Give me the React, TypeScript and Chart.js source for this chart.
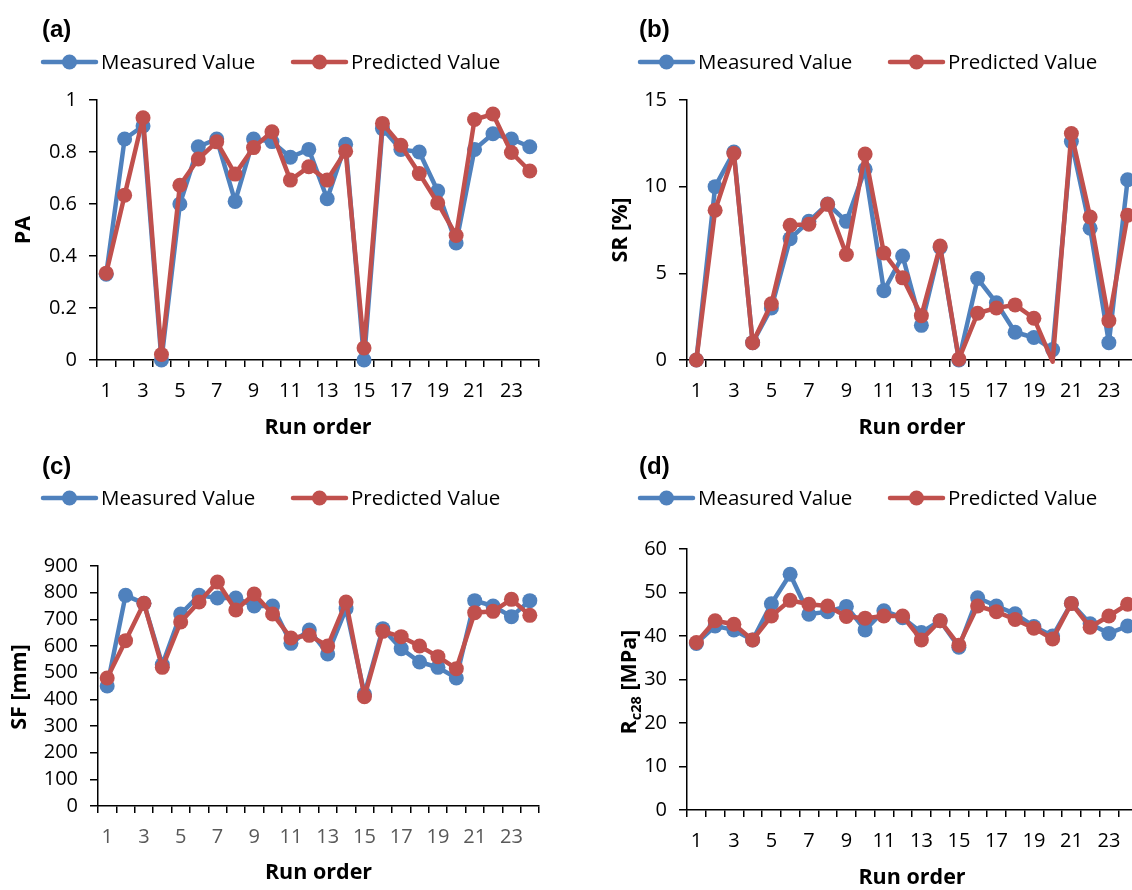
import React, { useEffect, useRef } from 'react';
import { Chart, registerables } from 'chart.js';

Chart.register(...registerables);

// ---------- data ----------
const runOrder = ['1','2','3','4','5','6','7','8','9','10','11','12','13','14','15','16','17','18','19','20','21','22','23','24'];

const paMeasured = [0.33, 0.85, 0.90, 0.0, 0.60, 0.82, 0.85, 0.61, 0.85, 0.84, 0.78, 0.81, 0.62, 0.83, 0.0, 0.89, 0.81, 0.80, 0.65, 0.45, 0.81, 0.87, 0.85, 0.82];
const paPredicted = [0.334, 0.634, 0.932, 0.021, 0.672, 0.773, 0.839, 0.715, 0.817, 0.878, 0.692, 0.743, 0.692, 0.803, 0.046, 0.91, 0.826, 0.717, 0.604, 0.479, 0.925, 0.946, 0.798, 0.727];

const srMeasured = [0, 10.0, 12.0, 1.0, 3.0, 7.0, 8.0, 9.0, 8.0, 11.0, 4.0, 6.0, 2.0, 6.5, 0, 4.7, 3.3, 1.6, 1.3, 0.6, 12.6, 7.6, 1.0, 10.4];
const srPredicted = [0, 8.64, 11.91, 1.0, 3.24, 7.77, 7.83, 8.98, 6.09, 11.88, 6.17, 4.74, 2.56, 6.57, 0.05, 2.7, 3.0, 3.18, 2.41, -0.1, 13.07, 8.25, 2.27, 8.35];

const sfMeasured = [450, 790, 760, 530, 720, 790, 780, 780, 750, 750, 610, 660, 570, 740, 420, 665, 590, 540, 520, 480, 770, 750, 710, 770];
const sfPredicted = [480, 620, 760, 520, 690, 765, 840, 735, 795, 720, 630, 640, 600, 765, 410, 655, 635, 600, 560, 515, 725, 730, 775, 715];

const rcMeasured = [38.3, 42.3, 41.4, 39.1, 47.4, 54.2, 45.0, 45.6, 46.8, 41.4, 45.8, 44.2, 40.8, 43.5, 37.4, 48.8, 46.9, 45.1, 42.2, 40.0, 47.5, 42.8, 40.6, 42.3];
const rcPredicted = [38.5, 43.5, 42.7, 39.1, 44.6, 48.2, 47.3, 46.9, 44.5, 44.1, 44.6, 44.6, 39.1, 43.5, 37.9, 46.9, 45.6, 43.8, 41.8, 39.3, 47.5, 42.0, 44.6, 47.3];

const seriesNames = ['Measured Value', 'Predicted Value'];
const xAxisTitle = 'Run order';

// ---------- style ----------
const BLUE = '#4F81BD';
const RED = '#C0504D';
const FONT = '"Open Sans", "Noto Sans", sans-serif';

const decorPlugin = {
  id: 'decor',
  afterDraw(chart: any, _args: any, o: any) {
    const ctx = chart.ctx;
    const ca = chart.chartArea;
    ctx.save();
    // panel tag
    ctx.fillStyle = '#000';
    ctx.font = 'bold 24px "Liberation Sans", Arial, sans-serif';
    ctx.textAlign = 'left';
    ctx.textBaseline = 'alphabetic';
    ctx.fillText(o.tag, o.tagX, o.tagY);
    // legend
    const items = [
      { x: o.leg1X, color: BLUE, text: chart.data.datasets[0].label },
      { x: o.leg2X, color: RED, text: chart.data.datasets[1].label },
    ];
    ctx.font = `20.5px ${FONT}`;
    ctx.textBaseline = 'middle';
    for (const it of items) {
      ctx.strokeStyle = it.color;
      ctx.lineWidth = 4.5;
      ctx.lineCap = 'round';
      ctx.beginPath();
      ctx.moveTo(it.x, o.legY);
      ctx.lineTo(it.x + 53, o.legY);
      ctx.stroke();
      ctx.fillStyle = it.color;
      ctx.beginPath();
      ctx.arc(it.x + 26.5, o.legY, 7.5, 0, Math.PI * 2);
      ctx.fill();
      ctx.fillStyle = '#000';
      ctx.fillText(it.text, it.x + 58, o.legY + 1);
    }
    // x title
    ctx.font = `bold 21.5px ${FONT}`;
    ctx.textAlign = 'center';
    ctx.textBaseline = 'middle';
    ctx.fillText(xAxisTitle, (ca.left + ca.right) / 2, ca.bottom + o.xTitleOff);
    // y title (rotated, with optional subscript)
    ctx.translate(o.yTitleX, o.yTitleY);
    ctx.rotate(-Math.PI / 2);
    ctx.textAlign = 'left';
    ctx.textBaseline = 'alphabetic';
    const mainFont = `bold 21.5px ${FONT}`;
    const subFont = `bold 14.5px ${FONT}`;
    let total = 0;
    for (const s of o.yTitle) {
      ctx.font = s.sub ? subFont : mainFont;
      total += ctx.measureText(s.t).width;
    }
    let x = -total / 2;
    for (const s of o.yTitle) {
      ctx.font = s.sub ? subFont : mainFont;
      ctx.fillText(s.t, x, s.sub ? 5 : 0);
      x += ctx.measureText(s.t).width;
    }
    ctx.restore();
  },
};

const panels = [
  {
    key: 'a', x: 0, y: 0, w: 566, h: 445, plotLeft: 97, plotRight: 539, plotTop: 100, plotBottom: 360,
    measured: paMeasured, predicted: paPredicted, min: 0, max: 1, step: 0.2, dec: 1,
    tag: '(a)', tagX: 42, tagY: 37, legY: 62, leg1X: 43, leg2X: 293,
    yTitle: [{ t: 'PA' }], yTitleX: 30, yTitleY: 230, xTitleOff: 68, xTickColor: '#000',
  },
  {
    key: 'b', x: 566, y: 0, w: 620, h: 445, plotLeft: 121, plotRight: 571, plotTop: 100, plotBottom: 360,
    measured: srMeasured, predicted: srPredicted, min: 0, max: 15, step: 5, dec: 0,
    tag: '(b)', tagX: 73, tagY: 37, legY: 62, leg1X: 74, leg2X: 324,
    yTitle: [{ t: 'SR [%]' }], yTitleX: 61, yTitleY: 230, xTitleOff: 68, xTickColor: '#000',
  },
  {
    key: 'c', x: 0, y: 445, w: 566, h: 445, plotLeft: 98, plotRight: 539, plotTop: 121, plotBottom: 361,
    measured: sfMeasured, predicted: sfPredicted, min: 0, max: 900, step: 100, dec: 0,
    tag: '(c)', tagX: 42, tagY: 29, legY: 53, leg1X: 43, leg2X: 293,
    yTitle: [{ t: 'SF [mm]' }], yTitleX: 26, yTitleY: 242, xTitleOff: 67, xTickColor: '#595959',
  },
  {
    key: 'd', x: 566, y: 445, w: 620, h: 445, plotLeft: 121, plotRight: 571, plotTop: 104, plotBottom: 365,
    measured: rcMeasured, predicted: rcPredicted, min: 0, max: 60, step: 10, dec: 0,
    tag: '(d)', tagX: 73, tagY: 29, legY: 53, leg1X: 74, leg2X: 324,
    yTitle: [{ t: 'R' }, { t: 'c28', sub: true }, { t: ' [MPa]' }], yTitleX: 70, yTitleY: 237, xTitleOff: 68, xTickColor: '#000',
  },
];

function Panel({ p }: { p: any }) {
  const ref = useRef<HTMLCanvasElement>(null);
  useEffect(() => {
    const radius = (c: any) => (c.raw < p.min ? 0 : 7.5);
    const mk = (label: string, data: number[], color: string, order: number) => ({
      label,
      data,
      borderColor: color,
      backgroundColor: color,
      pointBackgroundColor: color,
      pointBorderColor: color,
      pointBorderWidth: 0,
      borderWidth: 4.5,
      borderJoinStyle: 'round' as const,
      borderCapStyle: 'round' as const,
      pointRadius: radius,
      pointHoverRadius: radius,
      tension: 0,
      clip: false as any,
      order,
    });
    const chart = new Chart(ref.current as HTMLCanvasElement, {
      type: 'line',
      data: {
        labels: runOrder,
        datasets: [
          mk(seriesNames[0], p.measured, BLUE, 2),
          mk(seriesNames[1], p.predicted, RED, 1),
        ],
      },
      options: {
        responsive: false,
        animation: false,
        devicePixelRatio: 1,
        events: [],
        layout: { padding: { left: 0, top: p.plotTop, right: p.w - p.plotRight, bottom: 0 } },
        plugins: {
          legend: { display: false },
          tooltip: { enabled: false },
          title: { display: false },
          decor: p,
        } as any,
        scales: {
          x: {
            type: 'category',
            offset: true,
            grid: { display: true, offset: true, drawOnChartArea: false, drawTicks: true, tickLength: 7, color: '#000', lineWidth: 1.5 },
            border: { display: true, color: '#000', width: 1.5 },
            ticks: {
              autoSkip: false,
              maxRotation: 0,
              minRotation: 0,
              padding: 12,
              color: p.xTickColor,
              font: { family: FONT, size: 20 },
              callback: (_v: any, i: number) => (i % 2 === 0 ? runOrder[i] : ''),
            },
            afterFit: (s: any) => { s.height = p.h - p.plotBottom; },
          },
          y: {
            min: p.min,
            max: p.max,
            grid: { display: true, drawOnChartArea: false, drawTicks: true, tickLength: 8, color: '#000', lineWidth: 1.5 },
            border: { display: true, color: '#000', width: 1.5 },
            ticks: {
              stepSize: p.step,
              autoSkip: false,
              padding: 12,
              color: '#000',
              font: { family: FONT, size: 20 },
              callback: (v: any) => String(parseFloat(Number(v).toFixed(p.dec))),
            },
            afterFit: (s: any) => { s.width = p.plotLeft; },
          },
        } as any,
      },
      plugins: [decorPlugin as any],
    });
    return () => chart.destroy();
  }, []);
  return (
    <canvas
      ref={ref}
      width={p.w}
      height={p.h}
      style={{ position: 'absolute', left: p.x, top: p.y, width: p.w, height: p.h }}
    />
  );
}

export default function App() {
  return (
    <div style={{ position: 'fixed', left: 0, top: 0, width: 1132, height: 890, overflow: 'hidden', background: '#fff' }}>
      {panels.map((p) => <Panel key={p.key} p={p} />)}
    </div>
  );
}
